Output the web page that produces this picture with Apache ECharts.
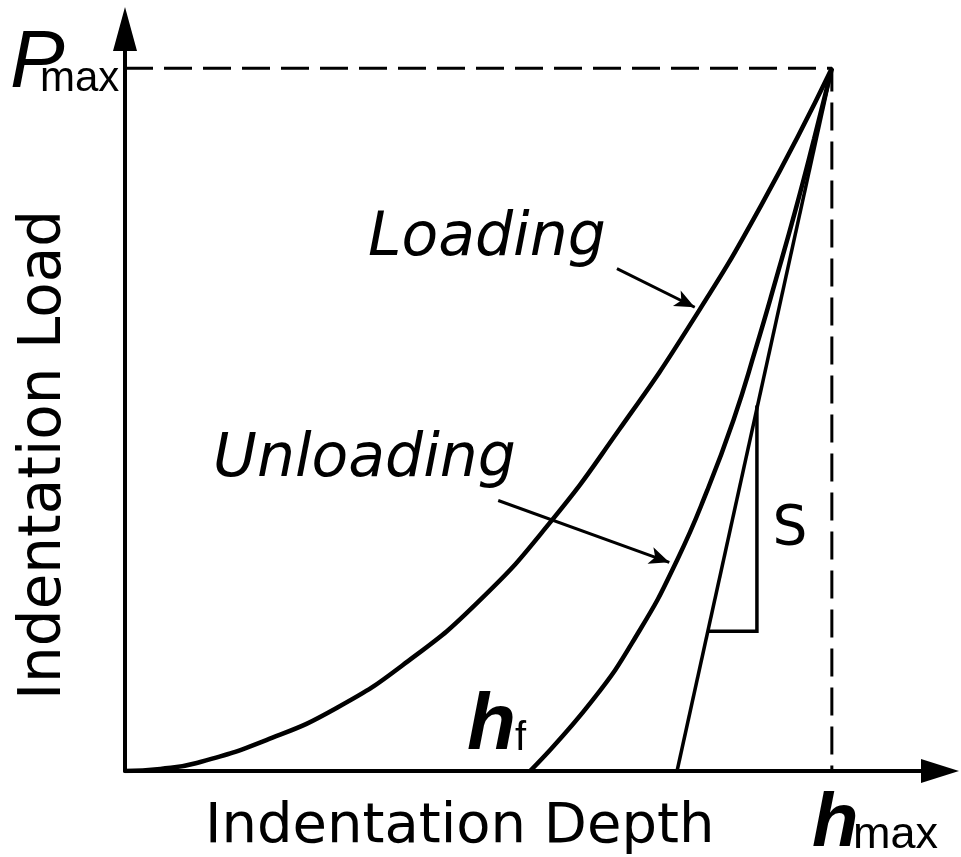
<!DOCTYPE html>
<html><head><meta charset="utf-8">
<script src="https://cdn.jsdelivr.net/npm/echarts@6/dist/echarts.min.js"></script>
<style>html,body{margin:0;padding:0;background:#fff}#c{width:961px;height:857px}</style>
</head><body><div id="c"></div>
<script>
// Normalised depth (h / hmax) and load (P / Pmax)
const loadingDepth = [0, 0.05, 0.1, 0.2, 0.3, 0.4, 0.5, 0.6, 0.7, 0.8, 0.9, 1];
const loadingLoad  = [0, 0.003, 0.011, 0.044, 0.090, 0.156, 0.241, 0.352, 0.487, 0.636, 0.805, 1];
const unloadingDepth = [0.573, 0.661, 0.728, 0.781, 0.824, 0.861, 0.892, 0.921, 0.949, 0.975, 1];
const unloadingLoad  = [0, 0.1, 0.2, 0.3, 0.4, 0.5, 0.6, 0.7, 0.8, 0.9, 1];
const tangentDepth = [0.781, 1];
const tangentLoad  = [0, 1];
const triangleDepth = [0.825, 0.894, 0.894];
const triangleLoad  = [0.199, 0.199, 0.52];
const guideDepth = [0, 1, 1];
const guideLoad  = [1, 1, 0];
// annotation arrows: [startDepth, startLoad, tipDepth, tipLoad]
const loadingArrow = [0.696, 0.715, 0.806, 0.660];
const unloadingArrow = [0.528, 0.385, 0.770, 0.297];

const zip = (a, b) => a.map((v, i) => [v, b[i]]);
const chart = echarts.init(document.getElementById('c'), null, {renderer: 'canvas'});
const black = '#000';
const sans = '"DejaVu Sans", sans-serif';
const lib = '"Liberation Sans", Arial, sans-serif';

chart.setOption({
  animation: false,
  backgroundColor: '#fff',
  grid: {left: 125, right: 21, top: 29, bottom: 86},
  xAxis: {
    type: 'value', min: 0, max: 1.153,
    axisLine: {show: true, onZero: false, symbol: ['none', 'triangle'], symbolSize: [24, 38], lineStyle: {color: black, width: 4}},
    axisTick: {show: false}, axisLabel: {show: false}, splitLine: {show: false}
  },
  yAxis: {
    type: 'value', min: 0, max: 1.056,
    axisLine: {show: true, onZero: false, symbol: ['none', 'triangle'], symbolSize: [24, 44], lineStyle: {color: black, width: 4}},
    axisTick: {show: false}, axisLabel: {show: false}, splitLine: {show: false}
  },
  series: [
    {type: 'line', data: zip(guideDepth, guideLoad), showSymbol: false, lineStyle: {color: black, width: 3, type: [28, 11]}},
    {type: 'line', data: zip(loadingDepth, loadingLoad), smooth: 0.5, showSymbol: false, lineStyle: {color: black, width: 4.5}},
    {type: 'line', data: zip(unloadingDepth, unloadingLoad), smooth: 0.5, showSymbol: false, lineStyle: {color: black, width: 4.5}},
    {type: 'line', data: zip(tangentDepth, tangentLoad), showSymbol: false, lineStyle: {color: black, width: 3.5}},
    {type: 'line', data: zip(triangleDepth, triangleLoad), showSymbol: false, lineStyle: {color: black, width: 3.5, join: 'miter'}},
    {type: 'line', data: [], markLine: {
      silent: true, symbol: ['none', 'arrow'], symbolSize: [13, 20], label: {show: false},
      lineStyle: {color: black, width: 3, type: 'solid'},
      data: [
        [{coord: [loadingArrow[0], loadingArrow[1]]}, {coord: [loadingArrow[2], loadingArrow[3]]}],
        [{coord: [unloadingArrow[0], unloadingArrow[1]]}, {coord: [unloadingArrow[2], unloadingArrow[3]]}]
      ]
    }}
  ],
  graphic: [
    {type: 'text', x: 368, y: 239, style: {text: 'Loading', font: 'italic 60px ' + sans, fill: black, textAlign: 'left', textVerticalAlign: 'middle'}},
    {type: 'text', x: 213, y: 460, style: {text: 'Unloading', font: 'italic 60px ' + sans, fill: black, textAlign: 'left', textVerticalAlign: 'middle'}},
    {type: 'text', x: 205, y: 827, style: {text: 'Indentation Depth', font: '56px ' + sans, fill: black, textAlign: 'left', textVerticalAlign: 'middle'}},
    {type: 'text', x: 45, y: 455, rotation: Math.PI / 2, style: {text: 'Indentation Load', font: '58px ' + sans, fill: black, textAlign: 'center', textVerticalAlign: 'middle'}},
    {type: 'text', x: 790, y: 530, style: {text: 'S', font: '55px ' + sans, fill: black, textAlign: 'center', textVerticalAlign: 'middle'}},
    {type: 'text', x: 10, y: 64, style: {text: 'P', font: 'italic 82px ' + lib, fill: black, textAlign: 'left', textVerticalAlign: 'middle'}},
    {type: 'text', x: 40, y: 79, style: {text: 'max', font: '42px ' + lib, fill: black, textAlign: 'left', textVerticalAlign: 'middle'}},
    {type: 'text', x: 812, y: 825, style: {text: 'h', font: 'italic bold 76px ' + lib, fill: black, textAlign: 'left', textVerticalAlign: 'middle'}},
    {type: 'text', x: 853, y: 836, style: {text: 'max', font: '45px ' + lib, fill: black, textAlign: 'left', textVerticalAlign: 'middle'}},
    {type: 'text', x: 467, y: 727, style: {text: 'h', font: 'italic bold 80px ' + lib, fill: black, textAlign: 'left', textVerticalAlign: 'middle'}},
    {type: 'text', x: 515, y: 739, style: {text: 'f', font: '40px ' + lib, fill: black, textAlign: 'left', textVerticalAlign: 'middle'}}
  ]
});
</script></body></html>
